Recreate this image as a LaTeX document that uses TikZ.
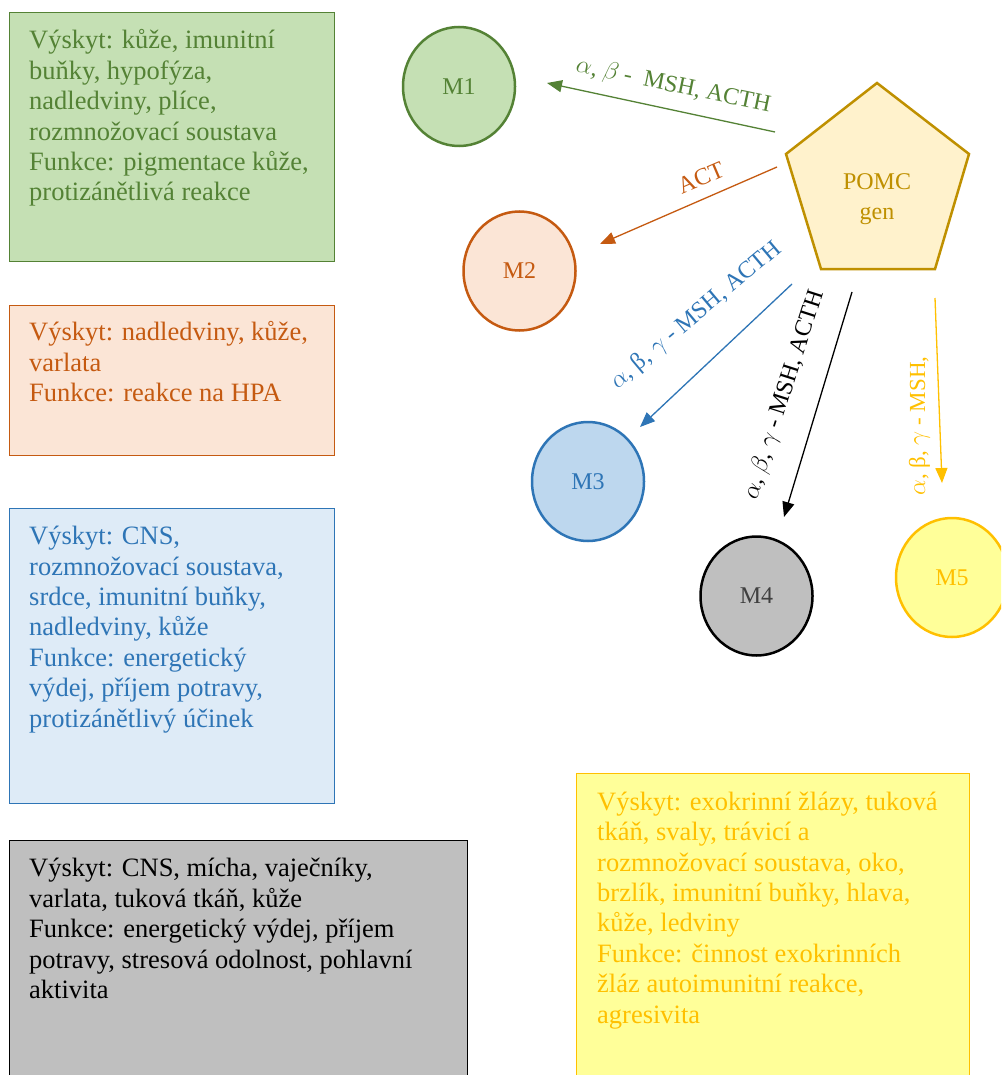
\documentclass[tikz,border=0pt]{standalone}
\usepackage{fontspec}
\setmainfont{Liberation Serif}
\usetikzlibrary{arrows.meta,shapes.geometric}
\definecolor{gdark}{HTML}{548235}
\definecolor{glight}{HTML}{C5E0B4}
\definecolor{odark}{HTML}{C55A11}
\definecolor{olight}{HTML}{FBE5D6}
\definecolor{bdark}{HTML}{2E75B6}
\definecolor{blight}{HTML}{DEEBF7}
\definecolor{bcirc}{HTML}{BDD7EE}
\definecolor{graybg}{HTML}{BFBFBF}
\definecolor{ydark}{HTML}{FFC000}
\definecolor{ylight}{HTML}{FFFF99}
\definecolor{pdark}{HTML}{BF9000}
\definecolor{plight}{HTML}{FFF2CC}
\definecolor{mgray}{HTML}{404040}
\begin{document}
\begin{tikzpicture}[x=1pt,y=-1pt,
 infobox/.style={draw, line width=1.2pt, anchor=north west, inner sep=0pt},
 infotext/.style={anchor=base west, align=left, inner sep=0pt, font=\fontsize{26.5}{30.4}\selectfont},
 mcirc/.style={ellipse, draw, line width=2.5pt, minimum width=112pt, minimum height=119pt, inner sep=0pt, font=\fontsize{24}{28}\selectfont},
 conn/.style={line width=1.3pt, -{Triangle[length=15pt,width=12pt]}},
 lab/.style={anchor=base, inner sep=0pt, font=\fontsize{24}{28}\selectfont}]
\clip (0,0) rectangle (1001,1075);
\fill[white] (0,0) rectangle (1001,1075);

% info boxes (text nodes anchored at the baseline of their last line)
\node[infobox, draw=gdark, fill=glight, minimum width=325pt, minimum height=249pt] (box1) at (9,12) {};
\node[infotext, text=gdark] (t1) at (29,201) {Výskyt: kůže, imunitní\\buňky, hypofýza,\\nadledviny, plíce,\\rozmnožovací soustava\\Funkce: pigmentace kůže,\\protizánětlivá reakce};

\node[infobox, draw=odark, fill=olight, minimum width=325pt, minimum height=150pt] (box2) at (9,305) {};
\node[infotext, text=odark] (t2) at (29,401.5) {Výskyt: nadledviny, kůže,\\varlata\\Funkce: reakce na HPA};

\node[infobox, draw=bdark, fill=blight, minimum width=325pt, minimum height=295pt] (box3) at (9,508) {};
\node[infotext, text=bdark] (t3) at (29,727) {Výskyt: CNS,\\rozmnožovací soustava,\\srdce, imunitní buňky,\\nadledviny, kůže\\Funkce: energetický\\výdej, příjem potravy,\\protizánětlivý účinek};

\node[infobox, draw=black, fill=graybg, minimum width=458pt, minimum height=260pt] (box4) at (9,840) {};
\node[infotext, text=black] (t4) at (29,998.5) {Výskyt: CNS, mícha, vaječníky,\\varlata, tuková tkáň, kůže\\Funkce: energetický výdej, příjem\\potravy, stresová odolnost, pohlavní\\aktivita};

\node[infobox, draw=ydark, fill=ylight, minimum width=393pt, minimum height=330pt] (box5) at (576,773) {};
\node[infotext, text=ydark] (t5) at (597,1023) {Výskyt: exokrinní žlázy, tuková\\tkáň, svaly, trávicí a\\rozmnožovací soustava, oko,\\brzlík, imunitní buňky, hlava,\\kůže, ledviny\\Funkce: činnost exokrinních\\žláz autoimunitní reakce,\\agresivita};

% circles
\node[mcirc, draw=gdark, fill=glight, text=gdark] (m1) at (459,86.5) {M1};
\node[mcirc, draw=odark, fill=olight, text=odark] (m2) at (519.5,271) {M2};
\node[mcirc, draw=bdark, fill=bcirc, text=bdark] (m3) at (588,481.5) {M3};
\node[mcirc, draw=black, fill=graybg, text=mgray] (m4) at (756.5,596) {M4};
\node[mcirc, draw=ydark, fill=ylight, text=ydark] (m5) at (952,577.5) {M5};

% pentagon
\draw[draw=pdark, fill=plight, line width=2.5pt, line join=miter] (877,83) -- (969,154) -- (935,269) -- (821,269) -- (786,154) -- cycle;
\node[align=center, text=pdark, font=\fontsize{24}{30}\selectfont, inner sep=0pt] (pomc) at (877,199) {POMC\\gen};

% connectors
\coordinate (g1) at (775,132); \coordinate (g2) at (547,83);
\coordinate (o1) at (777,167); \coordinate (o2) at (600,244);
\coordinate (b1) at (792,284); \coordinate (b2) at (640,427);
\coordinate (k1) at (852,292); \coordinate (k2) at (784,517);
\coordinate (y1) at (935,298); \coordinate (y2) at (942,483);
\draw[conn, gdark] (g1) -- (g2);
\draw[conn, odark] (o1) -- (o2);
\draw[conn, bdark] (b1) -- (b2);
\draw[conn, black] (k1) -- (k2);
\draw[conn, ydark] (y1) -- (y2);

% labels
\node[lab, text=gdark, rotate=-11.7] (lg) at (672,92) {$\alpha$, $\beta$ -\ \ MSH, ACTH};
\node[lab, text=odark, rotate=23.2] (lo) at (704,185) {ACT};
\node[lab, text=bdark, rotate=40] (lb) at (700,320) {$\alpha$, β, $\gamma$ - MSH, ACTH};
\node[lab, text=black, rotate=72.2] (lk) at (790,397) {$\alpha$, $\beta$, $\gamma$ - MSH, ACTH};
\node[lab, text=ydark, rotate=90, font=\fontsize{23}{27}\selectfont] (ly) at (925,426) {$\alpha$, β, $\gamma$ - MSH,};
\end{tikzpicture}
\end{document}
